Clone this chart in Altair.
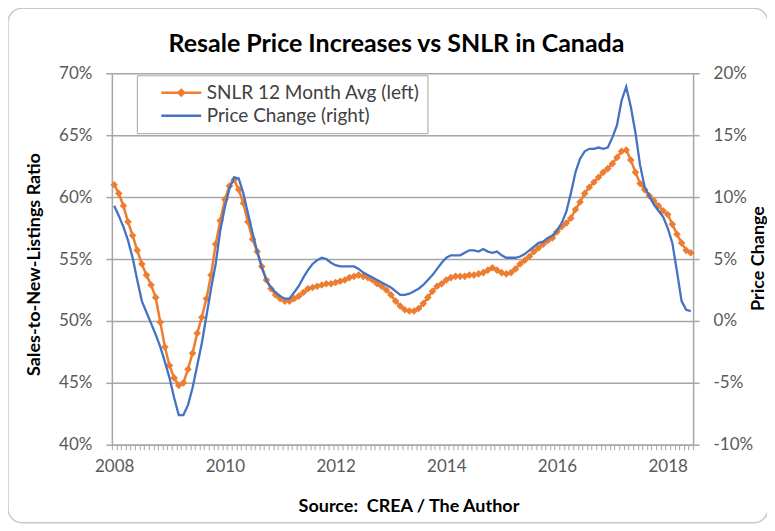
import altair as alt
import pandas as pd

# ---- data (monthly, Jan 2008 .. Jun 2018) ----
start_year = 2008
snlr_pct = [
    61.0, 60.3, 59.3, 58.0, 56.9, 55.7, 54.6, 53.7, 52.9, 51.9,
    49.9, 47.9, 46.4, 45.4, 44.8, 45.0, 46.1, 47.4, 49.0, 50.3,
    51.8, 53.7, 56.2, 58.1, 59.8, 60.9, 61.4, 60.6, 59.5, 58.0,
    56.6, 55.6, 54.4, 53.3, 52.6, 52.1, 51.8, 51.6, 51.6, 51.8,
    52.0, 52.3, 52.6, 52.7, 52.8, 52.9, 53.0, 53.0, 53.1, 53.2,
    53.3, 53.5, 53.6, 53.7, 53.6, 53.5, 53.3, 53.0, 52.8, 52.5,
    52.1, 51.6, 51.2, 50.9, 50.8, 50.8, 51.0, 51.4, 51.9, 52.4,
    52.8, 53.0, 53.3, 53.5, 53.6, 53.6, 53.6, 53.7, 53.7, 53.8,
    53.9, 54.1, 54.3, 54.1, 53.9, 53.8, 53.9, 54.2, 54.6, 54.9,
    55.2, 55.6, 55.9, 56.2, 56.5, 56.7, 57.2, 57.6, 57.9, 58.3,
    59.0, 59.6, 60.3, 60.8, 61.2, 61.6, 62.0, 62.3, 62.7, 63.2,
    63.7, 63.8, 63.0, 62.0, 61.1, 60.6, 60.1, 59.7, 59.3, 58.9,
    58.6, 57.8, 57.0, 56.3, 55.7, 55.5,
]
price_change_pct = [
    9.3, 8.5, 7.6, 6.5, 5.1, 3.3, 1.6, 0.7, -0.2, -1.1,
    -2.1, -3.3, -4.6, -6.2, -7.6, -7.6, -6.8, -5.4, -3.6, -1.8,
    0.4, 2.6, 4.6, 7.3, 9.2, 10.7, 11.6, 11.5, 10.3, 8.7,
    7.1, 5.6, 4.3, 3.3, 2.7, 2.3, 2.0, 1.8, 1.8, 2.3,
    2.8, 3.5, 4.1, 4.6, 4.9, 5.1, 5.0, 4.7, 4.5, 4.4,
    4.4, 4.4, 4.4, 4.2, 3.9, 3.7, 3.5, 3.3, 3.1, 2.9,
    2.7, 2.4, 2.1, 2.1, 2.2, 2.4, 2.6, 2.9, 3.3, 3.7,
    4.2, 4.7, 5.1, 5.3, 5.3, 5.3, 5.5, 5.7, 5.7, 5.6,
    5.8, 5.6, 5.5, 5.6, 5.3, 5.1, 5.1, 5.1, 5.2, 5.4,
    5.7, 6.0, 6.3, 6.4, 6.7, 6.9, 7.3, 7.9, 8.8, 10.3,
    12.0, 13.1, 13.7, 13.9, 13.9, 14.0, 13.9, 14.0, 14.8, 15.8,
    17.8, 18.9, 17.3, 15.2, 12.6, 10.8, 10.1, 9.4, 8.9, 8.4,
    7.5, 6.3, 4.0, 1.6, 0.9, 0.8,
]
series_names = ["SNLR 12 Month Avg (left)", "Price Change (right)"]
series_colors = ["#ED7D31", "#4472C4"]
left_ticks = [40, 45, 50, 55, 60, 65, 70]
right_ticks = [-10, -5, 0, 5, 10, 15, 20]
title_text = "Resale Price Increases vs SNLR in Canada"
source_text = "Source:\u00a0 CREA / The Author"
left_title = "Sales-to-New-Listings Ratio"
right_title = "Price Change"

assert len(snlr_pct) == len(price_change_pct) == 126

n = len(snlr_pct)
df = pd.DataFrame({
    "month": list(range(n)),
    "snlr": snlr_pct,
    "price": price_change_pct,
})

FONT = "Lato"
GRID = "#a6a6a6"
LABEL_COLOR = "#595959"

month_bounds = [i - 0.5 for i in range(n + 1)]

x_axis = alt.Axis(
    values=month_bounds,
    labelExpr=f"((datum.value + 0.5) % 24 == 0) ? '' + ({start_year} + (datum.value + 0.5) / 12) : ''",
    labelOffset=2.3,
    labelFlush=False,
    labelOverlap=False,
    labelBound=False,
    labelFont=FONT, labelFontSize=17, labelColor=LABEL_COLOR, labelPadding=9,
    tickSize=5, tickColor=GRID, tickWidth=1,
    domainColor=GRID, domainWidth=1.5,
    grid=False,
    title=source_text,
    titleFont=FONT, titleFontSize=18, titleFontWeight="bold", titleColor="black",
    titleX=297, titleY=62, titleBaseline="middle", titleAlign="center",
)
x_scale = alt.Scale(domain=[-0.5, n - 0.5], nice=False, zero=False)

orange = alt.Chart(df).mark_line(
    color=series_colors[0], strokeWidth=2.5,
    point=alt.OverlayMarkDef(filled=True, shape="diamond", size=58, color=series_colors[0], opacity=1),
).encode(
    x=alt.X("month:Q", scale=x_scale, axis=x_axis),
    y=alt.Y(
        "snlr:Q",
        scale=alt.Scale(domain=[40, 70], nice=False, zero=False),
        axis=alt.Axis(
            orient="left", values=left_ticks, labelExpr="datum.value + '%'",
            labelFont=FONT, labelFontSize=17, labelColor=LABEL_COLOR, labelPadding=14,
            tickSize=6, tickColor=GRID, tickWidth=1.5,
            domainColor=GRID, domainWidth=1.5,
            grid=True, gridColor=GRID, gridWidth=1.5,
            title=left_title, titleFont=FONT, titleFontSize=18, titleFontWeight="bold",
            titleColor="black", titleAngle=270, titleX=-77, titleY=191,
            titleAlign="center", titleBaseline="middle",
        ),
    ),
)

blue = alt.Chart(df).mark_line(color=series_colors[1], strokeWidth=2.3).encode(
    x=alt.X("month:Q", scale=x_scale, axis=x_axis),
    y=alt.Y(
        "price:Q",
        scale=alt.Scale(domain=[-10, 20], nice=False, zero=False),
        axis=alt.Axis(
            orient="right", values=right_ticks, labelExpr="datum.value + '%'",
            labelFont=FONT, labelFontSize=17, labelColor=LABEL_COLOR, labelPadding=14,
            tickSize=6, tickColor=GRID, tickWidth=1.5,
            domainColor=GRID, domainWidth=1.5,
            grid=False,
            title=right_title, titleFont=FONT, titleFontSize=18, titleFontWeight="bold",
            titleColor="black", titleAngle=270, titleX=65, titleY=185,
            titleAlign="center", titleBaseline="middle",
        ),
    ),
)

symbol_paths = [
    "M-1,0L1,0M0,-0.14L0.14,0L0,0.14L-0.14,0Z",
    "M-1,0L1,0",
]
legend_def = alt.Legend(
    title=None, orient="none", legendX=25, legendY=2,
    labelFont=FONT, labelFontSize=19, labelColor="#404040", labelLimit=500,
    symbolSize=1600, symbolStrokeWidth=2.5, clipHeight=21,
    rowPadding=2, padding=7, symbolOffset=16, labelOffset=4,
    strokeColor=GRID, fillColor="white",
)
legend_df = pd.DataFrame({"series": series_names})
legend_layer = alt.Chart(legend_df).mark_point(filled=True, opacity=1).encode(
    color=alt.Color("series:N", scale=alt.Scale(domain=series_names, range=series_colors), legend=legend_def),
    stroke=alt.Stroke("series:N", scale=alt.Scale(domain=series_names, range=series_colors), legend=legend_def),
    shape=alt.Shape("series:N", scale=alt.Scale(domain=series_names, range=symbol_paths), legend=legend_def),
).transform_filter("false")

frame = alt.Chart(pd.DataFrame({"frame": [0]})).mark_rect(
    filled=False, stroke="#c8c8c8", strokeWidth=1.5, cornerRadius=14,
).encode(
    x=alt.value(-104), x2=alt.value(657), y=alt.value(-65), y2=alt.value(450),
)

chart = alt.layer(frame, orange, blue, legend_layer).resolve_scale(
    y="independent"
).properties(
    width=582, height=372,
    padding={"left": 104, "top": 65, "right": 74, "bottom": 81},
    autosize=alt.AutoSizeParams(type="none"),
    title=alt.Title(title_text, font=FONT, fontSize=25, fontWeight="bold",
                    color="black", anchor="middle", dx=-6, offset=-49),
    background="white",
).configure_view(stroke=None).configure_axis(labelOverlap=False)

chart.save("out.html", embed_options={"renderer": "svg", "actions": False})
